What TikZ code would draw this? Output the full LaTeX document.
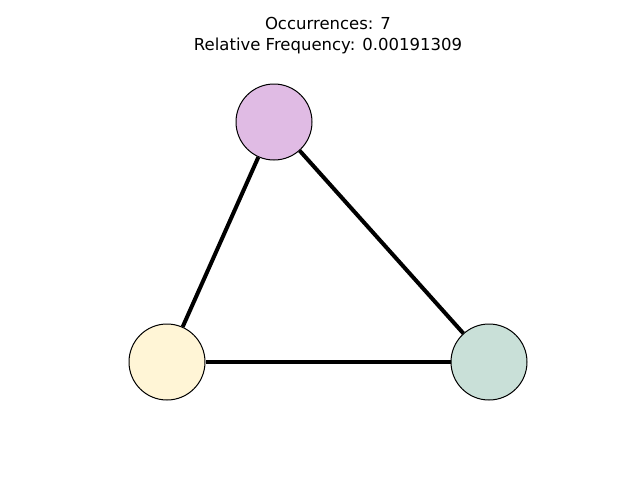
\documentclass[tikz,border=0pt]{standalone}
\usepackage{fontspec}
\setmainfont{DejaVu Sans}
\begin{document}
\begin{tikzpicture}[x=1pt,y=-1pt,
  vertex/.style={circle, draw=black, line width=1pt, minimum size=76pt, inner sep=0pt},
  edge/.style={line width=4pt},
  caption/.style={font=\fontsize{16.5}{20}\selectfont, align=center, anchor=base, inner sep=0pt}]
  \definecolor{lilac}{HTML}{E0BBE4}
  \definecolor{cream}{HTML}{FFF5D6}
  \definecolor{sage}{HTML}{C9E0D8}
  \useasboundingbox (0,0) rectangle (640,480);
  % title
  \node[caption] (t1) at (328,29) {Occurrences: 7};
  \node[caption] (t2) at (328,50) {Relative Frequency: 0.00191309};
  % vertices
  \node[vertex, fill=lilac] (a) at (274,122) {};
  \node[vertex, fill=cream] (b) at (167,362) {};
  \node[vertex, fill=sage] (c) at (489,362) {};
  % edges, stopping at the vertex borders
  \draw[edge] (a) -- (b);
  \draw[edge] (b) -- (c);
  \draw[edge] (a) -- (c);
\end{tikzpicture}
\end{document}
